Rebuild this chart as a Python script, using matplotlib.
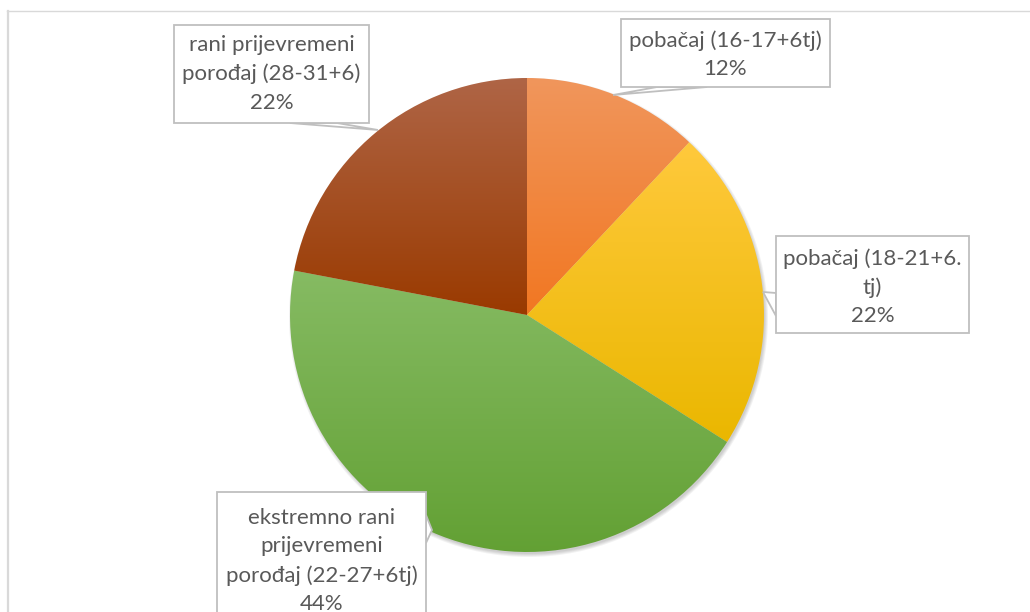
import numpy as np
import matplotlib
matplotlib.use('Agg')
import matplotlib.pyplot as plt
from matplotlib.colors import LinearSegmentedColormap
from matplotlib.patches import Rectangle, Polygon, Circle
from matplotlib.lines import Line2D

plt.rcParams['font.family'] = ['Lato', 'DejaVu Sans']

# data
labels = ['pobačaj (16-17+6tj)', 'pobačaj (18-21+6.\ntj)',
          'ekstremno rani\nprijevremeni\nporođaj (22-27+6tj)',
          'rani prijevremeni\nporođaj (28-31+6)']
shares = [12, 22, 44, 22]
# gradient colours per slice: (top, bottom)
grads = [('#F0965C', '#F27722'), ('#FFC93C', '#EAB700'),
         ('#86BB63', '#62A033'), ('#AF6546', '#9A3A00')]

W, H = 1030, 612
fig = plt.figure(figsize=(W / 100, H / 100), dpi=100)
ax = fig.add_axes([0, 0, 1, 1])
ax.set_axis_off()

cx, cy, R = 527, H - 315, 237

# soft shadow under the pie
for k, a in enumerate([0.05, 0.05, 0.05, 0.05]):
    ax.add_patch(Circle((cx + 1.5, cy - 2.5), R + 2.5 - k, color='black', alpha=a, lw=0, zorder=1))

wedges, _ = ax.pie(shares, startangle=90, counterclock=False,
                   center=(cx, cy), radius=R, wedgeprops=dict(lw=0))
g = np.linspace(0, 1, 256).reshape(-1, 1)
for w, (top, bot) in zip(wedges, grads):
    w.set_facecolor('none')
    v = w.get_path().vertices
    x0, x1 = v[:, 0].min(), v[:, 0].max()
    y0, y1 = v[:, 1].min(), v[:, 1].max()
    cm = LinearSegmentedColormap.from_list('s', [bot, top])
    im = ax.imshow(g, cmap=cm, extent=(x0, x1, y0, y1), origin='lower',
                   aspect='auto', zorder=2, interpolation='bilinear')
    im.set_clip_path(w)

ax.set_xlim(0, W)
ax.set_ylim(0, H)

# label boxes (left, top, right, bottom in image pixels) and callout tails
boxes = [(621, 19, 830, 87), (776, 236, 969, 333), (217, 492, 426, 640), (174, 25, 369, 123)]
tails = [[(657, 87), (613, 95), (707, 87)],
         [(776, 293), (763, 292), (776, 316)],
         [(426, 515), (432, 530), (426, 543)],
         [(290, 123), (378, 130), (337, 123)]]
text_y = [55, 287, 561, 74]
pct = ['12%', '22%', '44%', '22%']
edge = '#BFBFBF'
for (l, t, r, b), tail, ty, lab, p in zip(boxes, tails, text_y, labels, pct):
    ax.add_patch(Polygon([(x, H - y) for x, y in tail], closed=True, fc='white', ec=edge, lw=1.3, zorder=4))
    ax.add_patch(Rectangle((l, H - b), r - l, b - t, fc='white', ec=edge, lw=1.3, zorder=5))
    ax.text((l + r) / 2, H - ty, lab + '\n' + p, ha='center', va='center', fontsize=16,
            color='#595959', linespacing=1.52, zorder=6)

# chart area frame
fig.add_artist(Line2D([7 / W, 1], [1 - 11 / H, 1 - 11 / H], color='#D9D9D9', lw=1))
fig.add_artist(Line2D([8 / W, 8 / W], [0, 1 - 11 / H], color='#D9D9D9', lw=1.6))

fig.savefig('out.png', dpi=100)
